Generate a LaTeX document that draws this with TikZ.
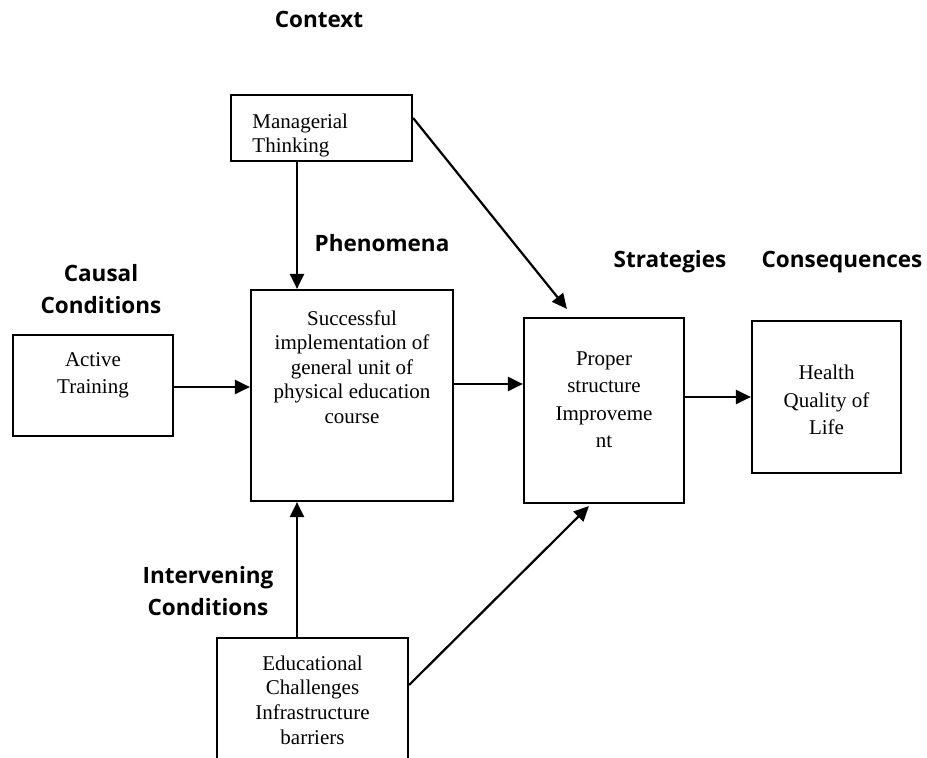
\documentclass[tikz,border=0pt]{standalone}
\usepackage{fontspec}
\setmainfont{Liberation Serif}
\newfontfamily\headfont{Open Sans}
\usetikzlibrary{arrows.meta,positioning}

\begin{document}
\begin{tikzpicture}[x=1pt, y=-1pt,
                    box/.style = {shape = rectangle,
                                  draw,
                                  line width = 2.2pt,
                                  inner sep = 0pt},
                    btext/.style = {align = center,
                                    font = \fontsize{21}{27.5}\selectfont},
                    head/.style = {align = center,
                                   font = \headfont\bfseries\fontsize{22.5}{32}\selectfont},
                    arr/.style = {line width = 2.2pt,
                                  -{Triangle[length=15pt, width=14pt]}}]
		\clip (0,0) rectangle (927,758);
		% headings
		\node[head] (hctx) at (319,19) {Context};
		\node[head] (hphen) at (382,243) {Phenomena};
		\node[head] (hcaus) at (101,289) {Causal\\Conditions};
		\node[head] (hstrat) at (670,262) {Strategies};
		\node[head] (hcons) at (842,262) {Consequences};
		\node[head] (hint) at (208,591) {Intervening\\Conditions};
		% boxes
		\node[box, minimum width = 181pt, minimum height = 66pt] (mgr) at (321.5,128) {};
		\node[box, minimum width = 160pt, minimum height = 101pt] (act) at (93,385.5) {};
		\node[box, minimum width = 202pt, minimum height = 211pt] (phen) at (352,395.5) {};
		\node[box, minimum width = 160pt, minimum height = 185pt] (prop) at (604,410.5) {};
		\node[box, minimum width = 149pt, minimum height = 152pt] (hql) at (826.5,397) {};
		\node[box, minimum width = 191pt, minimum height = 160pt] (edu) at (312.5,718) {};
		% texts
		\node[btext, align = left, anchor = north west, font = \fontsize{21}{24.5}\selectfont]
			(mgrt) at ([xshift=19pt, yshift=-16pt]mgr.north west) {Managerial\\Thinking};
		\node[btext, below = 15pt of act.north] (actt) {Active\\Training};
		\node[btext, below = 18pt of phen.north, font = \fontsize{21}{24.5}\selectfont] (phent)
			{Successful\\implementation of\\general unit of\\physical education\\course};
		\node[btext, below = 31pt of prop.north] (propt) {Proper\\structure\\Improveme\\nt};
		\node[btext] (hqlt) at ([yshift=-3pt]hql.center) {Health\\Quality of\\Life};
		\node[btext, below = 15pt of edu.north, font = \fontsize{21}{24.7}\selectfont] (edut)
			{Educational\\Challenges\\Infrastructure\\barriers};
		% connectors
		\coordinate (vx) at (297,0);
		\coordinate (hy) at (0,384);
		\path[arr] (mgr.south -| vx) edge (phen.north -| vx);
		\path[arr] (edu.north -| vx) edge (phen.south -| vx);
		\path[arr] (act.east |- 0,387) edge (phen.west |- 0,387);
		\path[arr] (phen.east |- hy) edge (prop.west |- hy);
		\path[arr] (prop.east |- hql.west) edge (hql.west);
		\path[arr] ([yshift=10pt]mgr.east) edge ([xshift=44pt, yshift=8pt]prop.north west);
		\path[arr] ([yshift=33pt]edu.east) edge ([xshift=66pt, yshift=-2pt]prop.south west);
	\end{tikzpicture}
\end{document}
